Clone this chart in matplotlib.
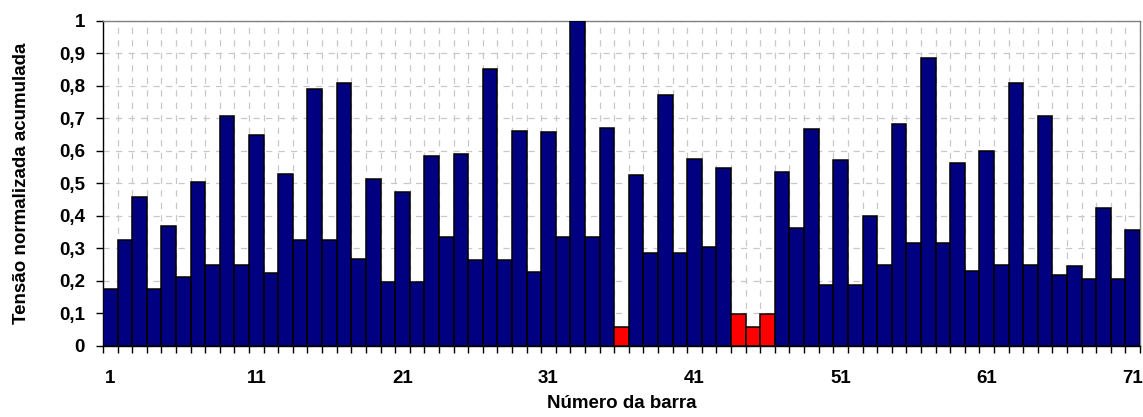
import matplotlib
matplotlib.use("Agg")
import matplotlib.pyplot as plt
import numpy as np

bars = list(range(1, 72))
values = [0.176, 0.327, 0.458, 0.176, 0.369, 0.212, 0.503, 0.248, 0.706, 0.248,
          0.648, 0.225, 0.529, 0.325, 0.789, 0.325, 0.808, 0.267, 0.514, 0.196,
          0.472, 0.196, 0.583, 0.335, 0.590, 0.263, 0.850, 0.263, 0.661, 0.226,
          0.659, 0.336, 1.000, 0.336, 0.671, 0.059, 0.525, 0.285, 0.773, 0.285,
          0.574, 0.303, 0.548, 0.098, 0.057, 0.098, 0.536, 0.362, 0.667, 0.187,
          0.571, 0.187, 0.401, 0.248, 0.682, 0.316, 0.884, 0.316, 0.562, 0.231,
          0.599, 0.249, 0.808, 0.249, 0.707, 0.217, 0.245, 0.206, 0.423, 0.206,
          0.356]
highlight = [36, 44, 45, 46]
xtick_labels = [1, 11, 21, 31, 41, 51, 61, 71]
yticks = [0, 0.1, 0.2, 0.3, 0.4, 0.5, 0.6, 0.7, 0.8, 0.9, 1]

plt.rcParams['font.family'] = ['Liberation Sans', 'DejaVu Sans']
plt.rcParams['font.weight'] = 'bold'

fig = plt.figure(figsize=(11.43, 4.17), dpi=100)
ax = fig.add_axes([0.0901, 0.1703, 0.9073, 0.7801])

colors = ['#FF0000' if b in highlight else '#000080' for b in bars]
ax.bar(bars, values, width=1.0, color=colors, edgecolor='black', linewidth=1.1, zorder=3)

ax.set_xlim(0.5, 71.5)
ax.set_ylim(0, 1)

ax.set_xticks(np.arange(0.5, 72, 1))
ax.set_xticklabels([])
ax.set_xticks(xtick_labels, minor=True)
ax.set_xticklabels([str(v) for v in xtick_labels], minor=True)
ax.tick_params(axis='x', which='major', length=5, width=1, direction='out', color='black')
ax.tick_params(axis='x', which='minor', length=0, pad=17, labelsize=13.5)

ax.set_yticks(yticks)
ax.set_yticklabels([('%g' % v).replace('.', ',') for v in yticks])
ax.tick_params(axis='y', length=5, width=1, direction='out', pad=8, labelsize=13.5)

ax.grid(True, which='major', axis='both', color='#C8C8C8', linestyle=(0, (5, 5)), linewidth=0.9, zorder=0)
ax.set_axisbelow(True)

for s in ['left', 'bottom']:
    ax.spines[s].set_color('black')
    ax.spines[s].set_linewidth(1.0)
for s in ['top', 'right']:
    ax.spines[s].set_color('#808080')
    ax.spines[s].set_linewidth(1.0)

ax.set_xlabel('Número da barra', fontsize=13.5, fontweight='bold', labelpad=6)
ax.set_ylabel('Tensão normalizada acumulada', fontsize=13.5, fontweight='bold', labelpad=21)

fig.savefig('out.png', dpi=100)
